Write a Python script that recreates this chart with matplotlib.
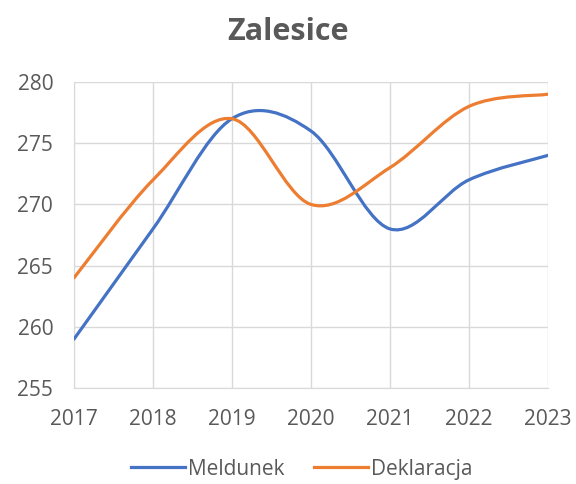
import numpy as np
import matplotlib.pyplot as plt
from matplotlib.path import Path
from matplotlib.patches import PathPatch
from matplotlib.lines import Line2D

years = [2017, 2018, 2019, 2020, 2021, 2022, 2023]
meldunek = [259, 268, 277, 276, 268, 272, 274]
deklaracja = [264, 272, 277, 270, 273, 278, 279]

BLUE = "#4472C4"
ORANGE = "#ED7D31"
TEXT = "#595959"
GRID = "#D9D9D9"

plt.rcParams["font.family"] = ["Open Sans", "DejaVu Sans"]


def smooth_path(xs, ys):
    """Bezier path through the points, Catmull-Rom style control points."""
    x = np.asarray(xs, dtype=float)
    y = np.asarray(ys, dtype=float)
    n = len(x)
    verts = [(x[0], y[0])]
    codes = [Path.MOVETO]
    for i in range(n - 1):
        i0 = max(i - 1, 0)
        i3 = min(i + 2, n - 1)
        c1 = (x[i] + (x[i + 1] - x[i0]) / 6, y[i] + (y[i + 1] - y[i0]) / 6)
        c2 = (x[i + 1] - (x[i3] - x[i]) / 6, y[i + 1] - (y[i3] - y[i]) / 6)
        verts += [c1, c2, (x[i + 1], y[i + 1])]
        codes += [Path.CURVE4] * 3
    return Path(verts, codes)


fig = plt.figure(figsize=(5.76, 4.84), dpi=100)
ax = fig.add_axes([0.1285, 0.1983, 0.8225, 0.6323])

for vals, color in [(meldunek, BLUE), (deklaracja, ORANGE)]:
    patch = PathPatch(smooth_path(years, vals), facecolor="none",
                      edgecolor=color, lw=2.3, capstyle="round", zorder=3)
    ax.add_patch(patch)

ax.set_xlim(2017, 2023)
ax.set_ylim(255, 280)
ax.set_xticks(years)
ax.set_yticks(np.arange(255, 281, 5))
ax.grid(True, color=GRID, lw=1)
ax.set_axisbelow(True)
for side in ["top", "right"]:
    ax.spines[side].set_visible(False)
ax.spines["left"].set_color(GRID)
ax.spines["bottom"].set_color(GRID)
ax.tick_params(length=0, labelsize=15, labelcolor=TEXT)
ax.tick_params(axis="y", pad=15)
ax.tick_params(axis="x", pad=15)

fig.suptitle("Zalesice", fontsize=22, fontweight="bold", color=TEXT, y=0.965)

handles = [Line2D([], [], color=BLUE, lw=2.3), Line2D([], [], color=ORANGE, lw=2.3)]
fig.legend(handles, ["Meldunek", "Deklaracja"], loc="lower center",
           bbox_to_anchor=(0.524, -0.03), ncol=2, frameon=False, fontsize=15,
           labelcolor=TEXT, handlelength=2.6, handletextpad=0.15, columnspacing=1.4)

fig.savefig("out.png", dpi=100)
